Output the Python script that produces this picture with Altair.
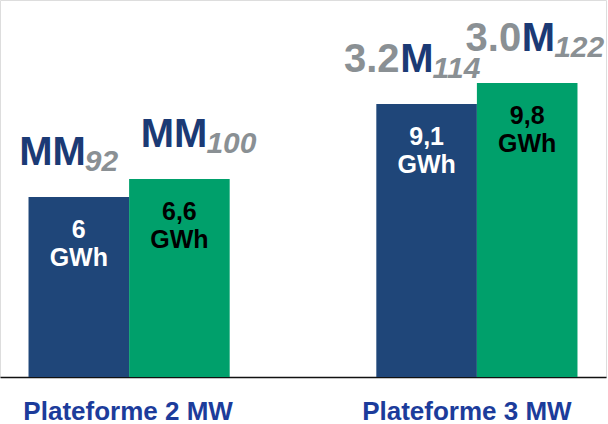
import altair as alt
import pandas as pd

# Annual energy yield per turbine, two platforms, two rotor generations each
platforms = ["Plateforme 2 MW", "Plateforme 2 MW", "Plateforme 3 MW", "Plateforme 3 MW"]
generation = ["ancienne", "nouvelle", "ancienne", "nouvelle"]
energy_gwh = [6.0, 6.6, 9.1, 9.8]
model_prefix = ["", "", "3.2", "3.0"]
model_core = ["MM", "MM", "M", "M"]
model_sub = ["92", "100", "114", "122"]


def fr_number(v):
    return f"{v:g}".replace(".", ",")


df = pd.DataFrame({
    "platform": platforms,
    "generation": generation,
    "energy": energy_gwh,
    "value_label": [fr_number(v) for v in energy_gwh],
    "prefix": model_prefix,
    "core": model_core,
    "sub": model_sub,
})

BLUE = "#1F4679"
GREEN = "#00A06B"
NAVY = "#1B3A75"
GREY = "#8A9094"
LABEL_BLUE = "#1C3C9B"
FONT = "Liberation Sans"

x_enc = alt.X(
    "platform:N",
    sort=["Plateforme 2 MW", "Plateforme 3 MW"],
    scale=alt.Scale(paddingInner=0.4216, paddingOuter=0.082),
    axis=alt.Axis(
        title=None,
        labelAngle=0,
        ticks=False,
        tickSize=0,
        domain=True,
        domainColor="#111111",
        domainWidth=1.5,
        labelFont=FONT,
        labelFontSize=26,
        labelFontWeight="bold",
        labelColor=LABEL_BLUE,
        labelPadding=42,
        labelLimit=0,
        labelBaseline="alphabetic",
        labelOffset=alt.condition("datum.value == 'Plateforme 3 MW'", alt.value(-10), alt.value(-1)),
    ),
)
xo_enc = alt.XOffset(
    "generation:N",
    sort=["ancienne", "nouvelle"],
    scale=alt.Scale(paddingInner=0, paddingOuter=0),
)
y_enc = alt.Y("energy:Q", scale=alt.Scale(domain=[0, 12.57]), axis=None)

base = alt.Chart(df).encode(x=x_enc, xOffset=xo_enc, y=y_enc)

bars = base.mark_bar().encode(
    color=alt.Color(
        "generation:N",
        scale=alt.Scale(domain=["ancienne", "nouvelle"], range=[BLUE, GREEN]),
        legend=None,
    )
)

# "6,6 / GWh" inside each bar
values = base.transform_calculate(
    lines="[datum.value_label, 'GWh']"
).mark_text(
    baseline="top", align="center", dy=21, font=FONT, fontSize=25,
    fontWeight="bold", lineHeight=28,
).encode(
    text="lines:N",
    color=alt.condition(alt.datum.generation == "ancienne", alt.value("white"), alt.value("black")),
)

# model names above the bars: grey prefix, navy core, grey italic index
CORE_SIZE = 40
M_WIDTH = 34
name_layers = []
for gen, dx in [("ancienne", 7), ("nouvelle", 28)]:
    sub_base = base.transform_filter(alt.datum.generation == gen)
    name_layers.append(sub_base.mark_text(
        align="right", baseline="alphabetic", dx=dx, dy=-32,
        font=FONT, fontSize=CORE_SIZE, fontWeight="bold", color=NAVY,
    ).encode(text="core:N"))
    name_layers.append(sub_base.mark_text(
        align="right", baseline="alphabetic", dx=dx - M_WIDTH, dy=-32,
        font=FONT, fontSize=CORE_SIZE, fontWeight="bold", color=GREY,
    ).encode(text="prefix:N"))
    name_layers.append(sub_base.mark_text(
        align="left", baseline="alphabetic", dx=dx - 1, dy=-26,
        font=FONT, fontSize=30, fontWeight="bold", fontStyle="italic", color=GREY,
    ).encode(text="sub:N"))

chart = alt.layer(bars, values, *name_layers).properties(
    width=606,
    height=377,
    autosize=alt.AutoSizeParams(type="none"),
    padding={"left": 0, "top": 0, "right": 2, "bottom": 47},
).configure_view(stroke=None).configure(background="white")

chart.save("out.html", embed_options={"renderer": "svg", "actions": False})
